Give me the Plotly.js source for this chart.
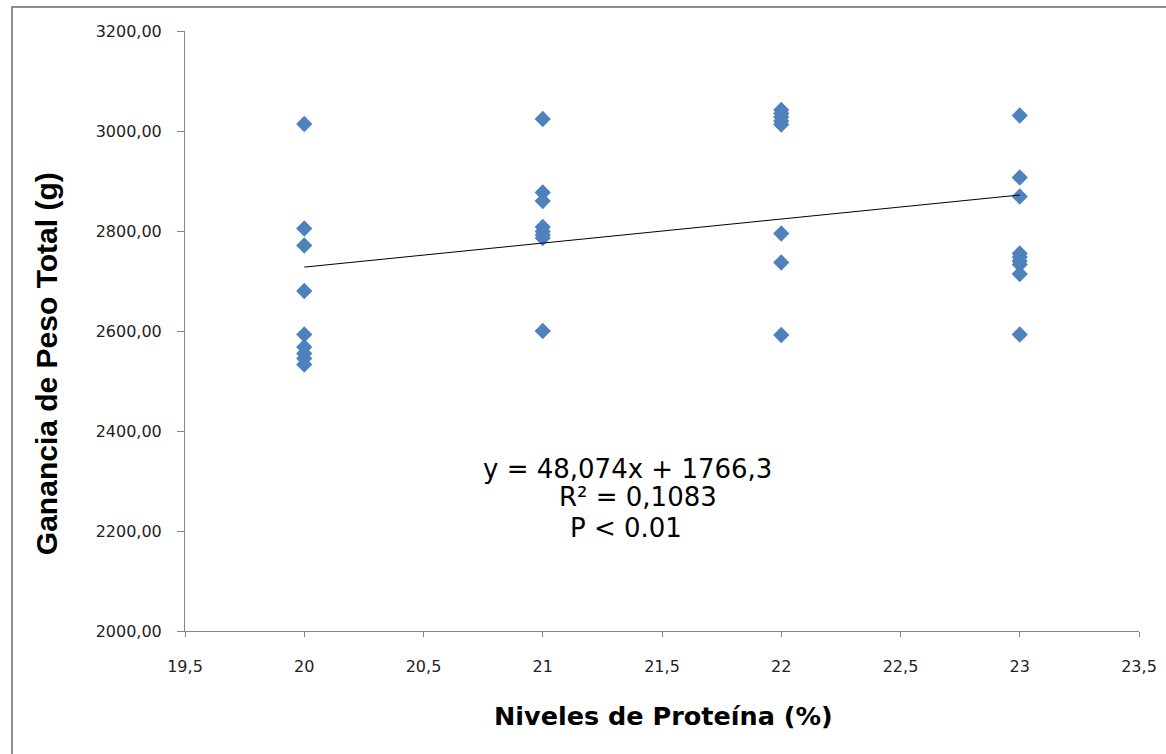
<!DOCTYPE html>
<html><head><meta charset="utf-8">
<script src="https://cdn.plot.ly/plotly-3.0.1.min.js"></script>
<style>html,body{margin:0;padding:0;background:#fff}#chart{width:1166px;height:754px}</style>
</head><body><div id="chart"></div>
<script>
const protein = [20,20,20,20,20,20,20,20,20,
                 21,21,21,21,21,21,21,21,
                 22,22,22,22,22,22,22,22,
                 23,23,23,23,23,23,23,23,23];
const gain = [3014,2805,2771,2680,2593,2568,2555,2545,2533,
              3024,2877,2860,2808,2799,2792,2786,2600,
              3042,3035,3028,3020,3013,2795,2737,2592,
              3031,2907,2869,2755,2748,2740,2733,2714,2593];
const slope = 48.074, intercept = 1766.3;
const trendX = [20, 23];
const trendY = trendX.map(v => slope*v + intercept);
const eqLines = ['y = 48,074x + 1766,3', 'R² = 0,1083', 'P < 0.01'];
const xTitle = 'Niveles de Proteína (%)';
const yTitle = 'Ganancia de Peso Total (g)';

const tickFont = {family:'DejaVu Sans, sans-serif', size:16, color:'#222'};
const eqPos = [[21.355, 2324], [21.40, 2268], [21.35, 2206]];
const data = [
  {x: protein, y: gain, type:'scatter', mode:'markers',
   marker:{symbol:'diamond', size:12.5, color:'#4F81BD'}, hoverinfo:'x+y'},
  {x: trendX, y: trendY, type:'scatter', mode:'lines',
   line:{color:'#000', width:1}}
];
const annotations = eqLines.map((t,i)=>({
    xref:'x', yref:'y', x:eqPos[i][0], y:eqPos[i][1], text:t, showarrow:false,
    xanchor:'center', yanchor:'middle',
    font:{family:'DejaVu Sans, sans-serif', size:26, color:'#000'}
  }));
annotations.push({xref:'paper', yref:'paper', x:0.502, y:-0.1417, text:xTitle, showarrow:false,
  xanchor:'center', yanchor:'middle',
  font:{family:'DejaVu Sans, sans-serif', size:25.5, color:'#000', weight:'bold'}});
annotations.push({xref:'paper', yref:'paper', x:-0.1445, y:0.445, text:yTitle, showarrow:false,
  xanchor:'center', yanchor:'middle', textangle:-90,
  font:{family:'Liberation Sans, Arial, sans-serif', size:30, color:'#000', weight:'bold'}});

const layout = {
  width:1166, height:754, showlegend:false,
  paper_bgcolor:'#fff', plot_bgcolor:'#fff',
  separators:',.',
  margin:{l:185, r:27, t:31, b:123},
  xaxis:{range:[19.5,23.5], dtick:0.5, tick0:19.5, showgrid:false, zeroline:false,
    showline:true, linecolor:'#868686', linewidth:1, ticks:'outside', ticklen:5, tickcolor:'#868686',
    tickfont:tickFont, ticklabelstandoff:16},
  yaxis:{range:[2000,3200], dtick:200, showgrid:false, zeroline:false, tickformat:'.2f',
    showline:true, linecolor:'#868686', linewidth:1, ticks:'outside', ticklen:7, tickcolor:'#868686',
    tickfont:tickFont, ticklabelstandoff:12},
  annotations: annotations,
  shapes:[{type:'rect', xref:'paper', yref:'paper', x0:-0.1813, x1:1.2, y0:-0.3, y1:1.04,
    line:{color:'#8c8c8c', width:2}, fillcolor:'rgba(0,0,0,0)', layer:'below'}]
};
Plotly.newPlot('chart', data, layout, {displayModeBar:false, staticPlot:true});
</script></body></html>
